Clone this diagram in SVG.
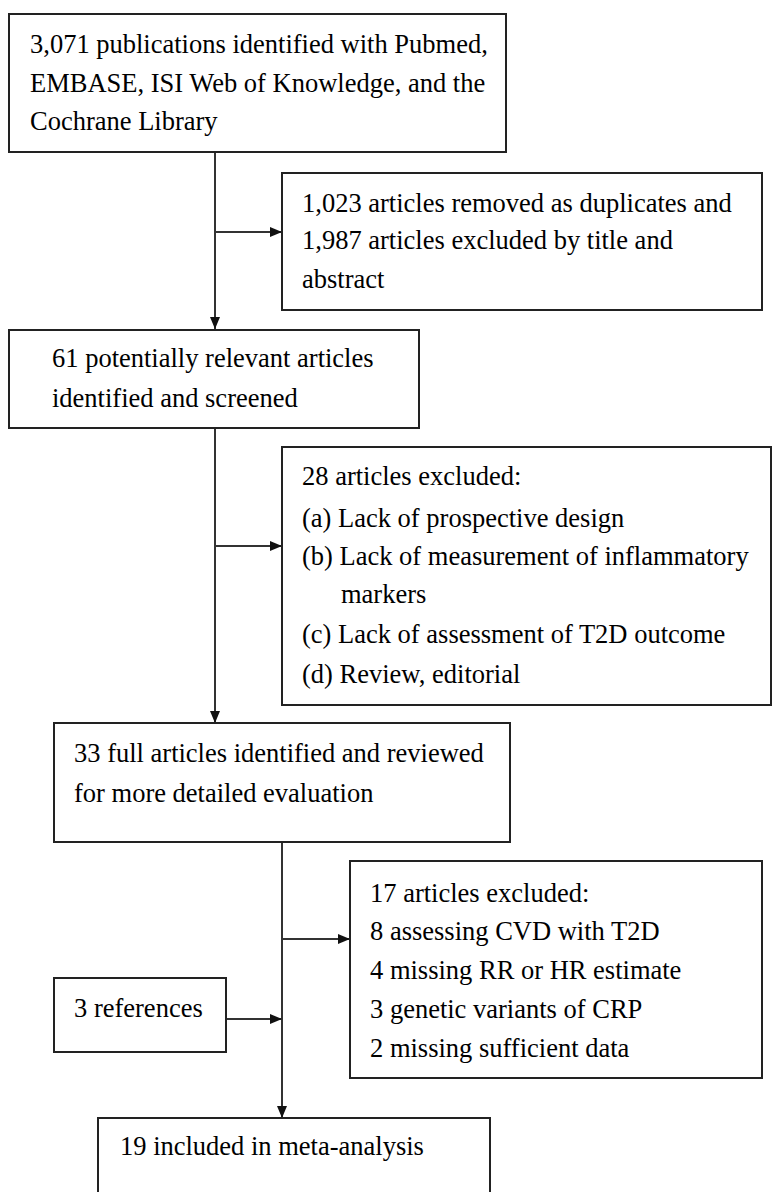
<svg xmlns="http://www.w3.org/2000/svg" width="772" height="1192" viewBox="0 0 772 1192">
<defs>
<marker id="ah" markerWidth="12" markerHeight="10" refX="12" refY="5" orient="auto" markerUnits="userSpaceOnUse">
<path d="M0,0 L12,5 L0,10 Z" fill="#111"/>
</marker>
</defs>
<rect width="772" height="1192" fill="#fff"/>
<g id="connectors" stroke="#333" stroke-width="2" fill="none">
<line x1="215" y1="152" x2="215" y2="329" marker-end="url(#ah)"/>
<line x1="215" y1="232" x2="282" y2="232" marker-end="url(#ah)"/>
<line x1="215" y1="428" x2="215" y2="723" marker-end="url(#ah)"/>
<line x1="215" y1="546" x2="282" y2="546" marker-end="url(#ah)"/>
<line x1="282" y1="842" x2="282" y2="1118" marker-end="url(#ah)"/>
<line x1="282" y1="939" x2="350" y2="939" marker-end="url(#ah)"/>
<line x1="226" y1="1019" x2="282" y2="1019" marker-end="url(#ah)"/>
</g>
<g id="n1">
<rect x="9" y="14" width="497" height="138" fill="#fff" stroke="#222" stroke-width="2"/>
<text x="30" y="53" font-family="Liberation Serif, DejaVu Serif, serif" font-size="26.5">3,071 publications identified with Pubmed,</text>
<text x="30" y="92" font-family="Liberation Serif, DejaVu Serif, serif" font-size="26.5">EMBASE, ISI Web of Knowledge, and the</text>
<text x="30" y="130" font-family="Liberation Serif, DejaVu Serif, serif" font-size="26.5">Cochrane Library</text>
</g>
<g id="n2">
<rect x="282" y="173" width="480" height="137" fill="#fff" stroke="#222" stroke-width="2"/>
<text x="302" y="212" font-family="Liberation Serif, DejaVu Serif, serif" font-size="26.5">1,023 articles removed as duplicates and</text>
<text x="302" y="249" font-family="Liberation Serif, DejaVu Serif, serif" font-size="26.5">1,987 articles excluded by title and</text>
<text x="302" y="288" font-family="Liberation Serif, DejaVu Serif, serif" font-size="26.5">abstract</text>
</g>
<g id="n3">
<rect x="9" y="330" width="410" height="98" fill="#fff" stroke="#222" stroke-width="2"/>
<text x="52" y="367" font-family="Liberation Serif, DejaVu Serif, serif" font-size="26.5">61 potentially relevant articles</text>
<text x="52" y="407" font-family="Liberation Serif, DejaVu Serif, serif" font-size="26.5">identified and screened</text>
</g>
<g id="n4">
<rect x="282" y="447" width="489" height="258" fill="#fff" stroke="#222" stroke-width="2"/>
<text x="302" y="485" font-family="Liberation Serif, DejaVu Serif, serif" font-size="26.5">28 articles excluded:</text>
<text x="302" y="527" font-family="Liberation Serif, DejaVu Serif, serif" font-size="26.5">(a) Lack of prospective design</text>
<text x="302" y="565" font-family="Liberation Serif, DejaVu Serif, serif" font-size="26.5">(b) Lack of measurement of inflammatory</text>
<text x="341" y="603" font-family="Liberation Serif, DejaVu Serif, serif" font-size="26.5">markers</text>
<text x="302" y="643" font-family="Liberation Serif, DejaVu Serif, serif" font-size="26.5">(c) Lack of assessment of T2D outcome</text>
<text x="302" y="683" font-family="Liberation Serif, DejaVu Serif, serif" font-size="26.5">(d) Review, editorial</text>
</g>
<g id="n5">
<rect x="54" y="723" width="456" height="119" fill="#fff" stroke="#222" stroke-width="2"/>
<text x="74" y="762" font-family="Liberation Serif, DejaVu Serif, serif" font-size="26.5">33 full articles identified and reviewed</text>
<text x="74" y="802" font-family="Liberation Serif, DejaVu Serif, serif" font-size="26.5">for more detailed evaluation</text>
</g>
<g id="n6">
<rect x="350" y="861" width="412" height="217" fill="#fff" stroke="#222" stroke-width="2"/>
<text x="370" y="902" font-family="Liberation Serif, DejaVu Serif, serif" font-size="26.5">17 articles excluded:</text>
<text x="370" y="940" font-family="Liberation Serif, DejaVu Serif, serif" font-size="26.5">8 assessing CVD with T2D</text>
<text x="370" y="979" font-family="Liberation Serif, DejaVu Serif, serif" font-size="26.5">4 missing RR or HR estimate</text>
<text x="370" y="1018" font-family="Liberation Serif, DejaVu Serif, serif" font-size="26.5">3 genetic variants of CRP</text>
<text x="370" y="1057" font-family="Liberation Serif, DejaVu Serif, serif" font-size="26.5">2 missing sufficient data</text>
</g>
<g id="n7">
<rect x="54" y="978" width="172" height="74" fill="#fff" stroke="#222" stroke-width="2"/>
<text x="74" y="1017" font-family="Liberation Serif, DejaVu Serif, serif" font-size="26.5">3 references</text>
</g>
<g id="n8">
<rect x="98" y="1118" width="392" height="80" fill="#fff" stroke="#222" stroke-width="2"/>
<text x="120" y="1155" font-family="Liberation Serif, DejaVu Serif, serif" font-size="26.5">19 included in meta-analysis</text>
</g>
</svg>
